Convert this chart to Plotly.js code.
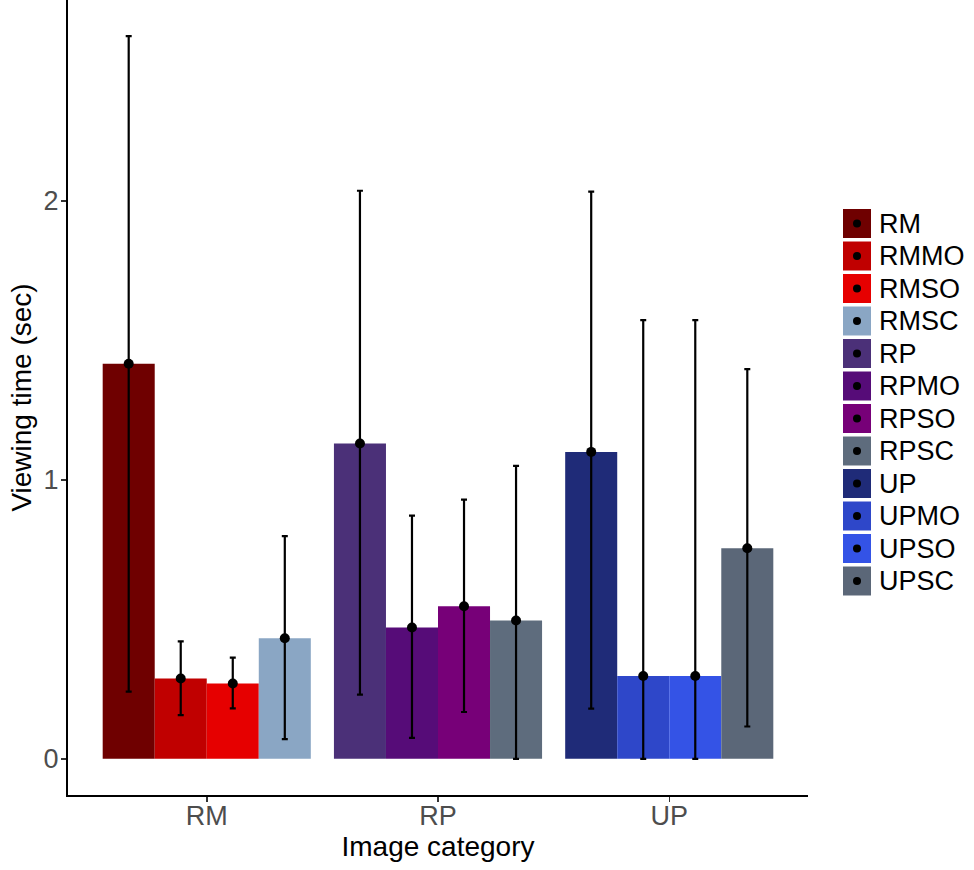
<!DOCTYPE html>
<html>
<head>
<meta charset="utf-8">
<script src="https://cdn.plot.ly/plotly-3.0.1.min.js"></script>
<style>html,body{margin:0;padding:0;background:#fff}#chart{width:974px;height:870px}</style>
</head>
<body>
<div id="chart"></div>
<script>
// ---- data ----
var categories = ['RM', 'RP', 'UP'];
var seriesNames = ['RM','RMMO','RMSO','RMSC','RP','RPMO','RPSO','RPSC','UP','UPMO','UPSO','UPSC'];
var seriesCategory = ['RM','RM','RM','RM','RP','RP','RP','RP','UP','UP','UP','UP'];
var means = [1.416, 0.288, 0.270, 0.432, 1.130, 0.471, 0.547, 0.496, 1.100, 0.297, 0.297, 0.755];
var lower = [0.241, 0.157, 0.181, 0.071, 0.230, 0.075, 0.168, 0.000, 0.180, 0.000, 0.000, 0.116];
var upper = [2.590, 0.421, 0.363, 0.798, 2.036, 0.872, 0.929, 1.050, 2.033, 1.572, 1.572, 1.397];
var colors = ['#6f0000','#c00000','#e60000','#8aa6c4','#4b3078','#560c78','#770078','#5e6c7d','#1f2b78','#2e47c9','#3453e6','#5b6778'];
var yTicks = [0, 1, 2];

// ---- layout helpers ----
var W = 974, H = 870;
var M = {l: 68, r: 166, t: 0, b: 75};
var pw = W - M.l - M.r, ph = H - M.t - M.b;
var perGroup = 4, groupWidth = 0.9, barW = groupWidth / perGroup;
var font = 'Liberation Sans, Arial, sans-serif';

function slotOf(i) {
  var c = seriesCategory[i], k = 0;
  for (var j = 0; j < i; j++) if (seriesCategory[j] === c) k++;
  return k;
}
function xPos(i) {
  return categories.indexOf(seriesCategory[i]) - groupWidth / 2 + barW * (slotOf(i) + 0.5);
}

var traces = [];
seriesNames.forEach(function (n, i) {
  traces.push({
    type: 'bar', name: n, x: [xPos(i)], y: [means[i]], width: barW,
    marker: {color: colors[i], line: {width: 0}}, showlegend: false, hoverinfo: 'name+y'
  });
});
var xs = seriesNames.map(function (n, i) { return xPos(i); });
traces.push({
  type: 'scatter', mode: 'markers', x: xs, y: means, showlegend: false,
  marker: {color: '#000', size: 10},
  error_y: {
    type: 'data', symmetric: false,
    array: upper.map(function (u, i) { return u - means[i]; }),
    arrayminus: lower.map(function (l, i) { return means[i] - l; }),
    color: '#000', thickness: 2.2, width: 3
  }
});

// ---- manual legend (ggplot-style keys) ----
var shapes = [], annotations = [];
var keyX0 = 843, keyX1 = 871, keyTop = 209, keyStep = 32.5, keyH = 29;
function px2x(p) { return (p - M.l) / pw; }
function py2y(p) { return (M.t + ph - p) / ph; }
seriesNames.forEach(function (n, i) {
  var t = keyTop + i * keyStep, b = t + keyH, cy = (t + b) / 2, cx = (keyX0 + keyX1) / 2;
  shapes.push({type: 'rect', xref: 'paper', yref: 'paper', x0: px2x(keyX0), x1: px2x(keyX1),
    y0: py2y(b), y1: py2y(t), fillcolor: colors[i], line: {width: 0}});
  shapes.push({type: 'circle', xref: 'paper', yref: 'paper', x0: px2x(cx - 4), x1: px2x(cx + 4),
    y0: py2y(cy + 4), y1: py2y(cy - 4), fillcolor: '#000', line: {width: 0}});
  annotations.push({xref: 'paper', yref: 'paper', x: px2x(877), y: py2y(cy), xanchor: 'left', yanchor: 'middle',
    text: n, showarrow: false, font: {family: font, size: 27, color: '#000'}});
});

var layout = {
  width: W, height: H, margin: M, paper_bgcolor: '#fff', plot_bgcolor: '#fff',
  showlegend: false, font: {family: font},
  xaxis: {
    range: [-0.6, 2.6], tickmode: 'array', tickvals: categories.map(function (c, i) { return i; }), ticktext: categories,
    showgrid: false, zeroline: false, showline: true, linecolor: '#000', linewidth: 2,
    ticks: 'outside', ticklen: 5, tickwidth: 1.5, tickcolor: '#333', ticklabelstandoff: -9,
    tickfont: {family: font, size: 27, color: '#4d4d4d'},
    title: {text: 'Image category', font: {family: font, size: 28, color: '#000'}, standoff: 2}
  },
  yaxis: {
    range: [-0.1295, 2.7195], tickmode: 'array', tickvals: yTicks, ticktext: yTicks.map(String),
    showgrid: false, zeroline: false, showline: true, linecolor: '#000', linewidth: 2,
    ticks: 'outside', ticklen: 5, tickwidth: 1.5, tickcolor: '#333', ticklabelstandoff: -3,
    tickfont: {family: font, size: 27, color: '#4d4d4d'},
    title: {text: 'Viewing time (sec)', font: {family: font, size: 28, color: '#000'}, standoff: 4}
  },
  shapes: shapes, annotations: annotations
};
Plotly.newPlot('chart', traces, layout, {displayModeBar: false, staticPlot: true});
</script>
</body>
</html>
